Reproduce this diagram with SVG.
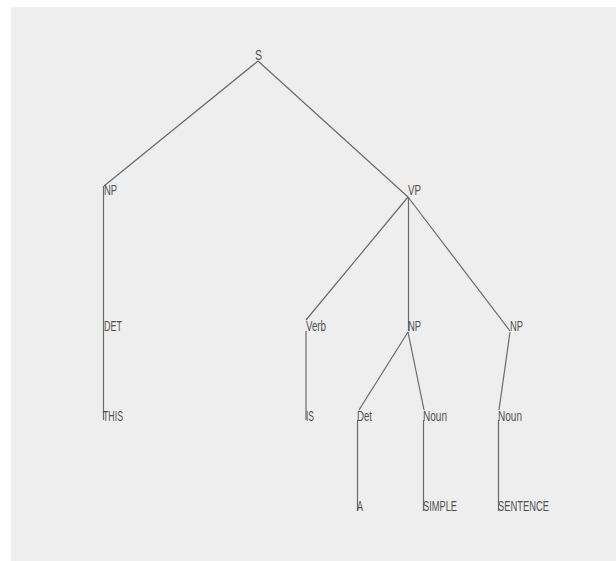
<svg xmlns="http://www.w3.org/2000/svg" width="616" height="561" viewBox="0 0 616 561">
<style>
.t{font-family:"Liberation Sans",Arial,sans-serif;font-size:15px;fill:#505050}
.e{stroke:#6a6a6a;stroke-width:1.2;fill:none}
</style>
<rect x="0" y="0" width="616" height="561" fill="#ffffff"/>
<rect x="11" y="7" width="605" height="554" fill="#eeeeee"/>
<g id="edges">
<line class="e" x1="258" y1="61" x2="104" y2="186"/>
<line class="e" x1="258" y1="61" x2="408" y2="197"/>
<line class="e" x1="103.5" y1="186" x2="103.5" y2="420"/>
<line class="e" x1="408" y1="197" x2="306" y2="320"/>
<line class="e" x1="408.5" y1="197" x2="408.5" y2="331"/>
<line class="e" x1="408" y1="197" x2="510" y2="331"/>
<line class="e" x1="306" y1="331" x2="306" y2="420"/>
<line class="e" x1="408" y1="332" x2="359" y2="410"/>
<line class="e" x1="408" y1="332" x2="424" y2="410"/>
<line class="e" x1="510" y1="332" x2="499" y2="410"/>
<line class="e" x1="357.5" y1="420" x2="357.5" y2="511"/>
<line class="e" x1="423.5" y1="420" x2="423.5" y2="511"/>
<line class="e" x1="498.5" y1="420" x2="498.5" y2="511"/>
</g>
<g id="n-S"><text class="t" x="255" y="60" textLength="7" lengthAdjust="spacingAndGlyphs">S</text></g>
<g id="n-NP1"><text class="t" x="104" y="195" textLength="13" lengthAdjust="spacingAndGlyphs">NP</text></g>
<g id="n-VP"><text class="t" x="408" y="195" textLength="13" lengthAdjust="spacingAndGlyphs">VP</text></g>
<g id="n-DET"><text class="t" x="104" y="331" textLength="18" lengthAdjust="spacingAndGlyphs">DET</text></g>
<g id="n-Verb"><text class="t" x="306" y="331" textLength="20" lengthAdjust="spacingAndGlyphs">Verb</text></g>
<g id="n-NP2"><text class="t" x="408" y="331" textLength="13" lengthAdjust="spacingAndGlyphs">NP</text></g>
<g id="n-NP3"><text class="t" x="510" y="331" textLength="13" lengthAdjust="spacingAndGlyphs">NP</text></g>
<g id="n-THIS"><text class="t" x="103" y="421" textLength="20" lengthAdjust="spacingAndGlyphs">THIS</text></g>
<g id="n-IS"><text class="t" x="306" y="421" textLength="8" lengthAdjust="spacingAndGlyphs">IS</text></g>
<g id="n-Det"><text class="t" x="357" y="421" textLength="15" lengthAdjust="spacingAndGlyphs">Det</text></g>
<g id="n-Noun1"><text class="t" x="423" y="421" textLength="24" lengthAdjust="spacingAndGlyphs">Noun</text></g>
<g id="n-Noun2"><text class="t" x="498" y="421" textLength="24" lengthAdjust="spacingAndGlyphs">Noun</text></g>
<g id="n-A"><text class="t" x="357" y="511" textLength="6" lengthAdjust="spacingAndGlyphs">A</text></g>
<g id="n-SIMPLE"><text class="t" x="423" y="511" textLength="34" lengthAdjust="spacingAndGlyphs">SIMPLE</text></g>
<g id="n-SENTENCE"><text class="t" x="498" y="511" textLength="51" lengthAdjust="spacingAndGlyphs">SENTENCE</text></g>
</svg>
